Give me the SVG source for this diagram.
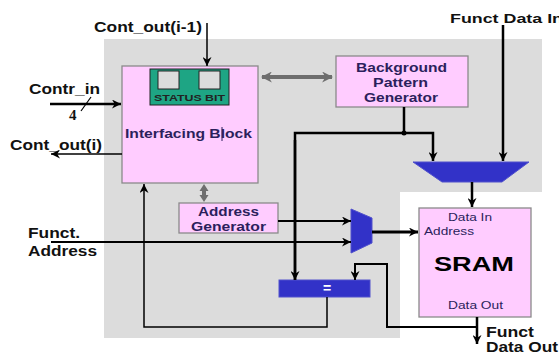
<svg xmlns="http://www.w3.org/2000/svg" width="559" height="354" viewBox="0 0 559 354">
<style>
.bx{fill:#ffccff;stroke:#8a8a8a;stroke-width:1.3}
.t{font-family:"Liberation Sans",Arial,sans-serif;font-weight:bold;fill:#111}
.bt{font-family:"Liberation Sans",Arial,sans-serif;font-weight:bold;fill:#2b1f5c}
.rt{font-family:"Liberation Sans",Arial,sans-serif;fill:#2b1f5c}
.w{fill:none;stroke:#000;stroke-linejoin:miter}
.blue{fill:#3232c8;stroke:#5050cc;stroke-width:1}
.g{stroke:#6e6e6e;stroke-width:4;fill:none}
</style>
<defs>
<marker id="a" viewBox="0 0 10 10" refX="10" refY="5" markerWidth="9" markerHeight="9" markerUnits="userSpaceOnUse" orient="auto"><path d="M0,0 L10,5 L0,10 L3,5 z" fill="#000"/></marker>
<marker id="ga" viewBox="0 0 10 10" refX="9" refY="5" markerWidth="11" markerHeight="11" markerUnits="userSpaceOnUse" orient="auto-start-reverse"><path d="M0,0 L10,5 L0,10 L3,5 z" fill="#6e6e6e"/></marker>
</defs>
<rect width="559" height="354" fill="#fff"/>
<path d="M104,39 H542 V192 H400 V338 H104 Z" fill="#dcdcdc"/>

<g id="interfacing">
<rect class="bx" x="122" y="66" width="136" height="117"/>
<text class="bt" x="125" y="138" font-size="13" textLength="127" lengthAdjust="spacingAndGlyphs">Interfacing Block</text>
<line x1="222" y1="127" x2="222" y2="141" stroke="#2b1f5c" stroke-width="1"/>
</g>
<g id="status">
<rect x="150" y="69" width="79" height="36" fill="#1ea584" stroke="#222" stroke-width="1"/>
<rect x="158" y="71" width="21" height="18" fill="#dcdcdc" stroke="#222" stroke-width="1"/>
<rect x="199" y="71" width="21" height="18" fill="#dcdcdc" stroke="#222" stroke-width="1"/>
<text class="t" x="154" y="101" font-size="9" textLength="71" lengthAdjust="spacingAndGlyphs" style="fill:#222">STATUS BIT</text>
</g>
<g id="bpg">
<rect class="bx" x="336" y="56" width="132" height="51"/>
<text class="bt" x="356" y="72" font-size="13" textLength="91" lengthAdjust="spacingAndGlyphs">Background</text>
<text class="bt" x="373" y="87" font-size="13" textLength="55" lengthAdjust="spacingAndGlyphs">Pattern</text>
<text class="bt" x="364" y="102" font-size="13" textLength="74" lengthAdjust="spacingAndGlyphs">Generator</text>
</g>
<g id="addrgen">
<rect class="bx" x="179" y="203" width="99" height="30"/>
<text class="bt" x="198" y="216" font-size="13" textLength="61" lengthAdjust="spacingAndGlyphs">Address</text>
<text class="bt" x="191" y="231" font-size="13" textLength="75" lengthAdjust="spacingAndGlyphs">Generator</text>
</g>
<g id="datamux">
<path class="blue" d="M413,162 H529 L502,182 H442 Z"/>
</g>
<g id="addrmux">
<path class="blue" d="M351,209 L372,218 V243 L351,253 Z"/>
</g>
<g id="compare">
<rect class="blue" x="279" y="280" width="91" height="17"/>
<text x="327" y="293" font-family="Liberation Sans,Arial,sans-serif" font-weight="bold" font-size="14" fill="#fff" text-anchor="middle">=</text>
</g>
<g id="sram">
<rect class="bx" x="419" y="208" width="112" height="109"/>
<text class="rt" x="448" y="221" font-size="11" textLength="44" lengthAdjust="spacingAndGlyphs">Data In</text>
<text class="rt" x="424" y="235" font-size="11" textLength="50" lengthAdjust="spacingAndGlyphs">Address</text>
<text x="434" y="271" font-family="Liberation Sans,Arial,sans-serif" font-weight="bold" font-size="21" fill="#000" textLength="80" lengthAdjust="spacingAndGlyphs">SRAM</text>
<text class="rt" x="448" y="309" font-size="11" textLength="55" lengthAdjust="spacingAndGlyphs">Data Out</text>
</g>

<g id="labels">
<text class="t" x="94" y="32" font-size="14" textLength="108" lengthAdjust="spacingAndGlyphs">Cont_out(i-1)</text>
<text class="t" x="29" y="94" font-size="14" textLength="71" lengthAdjust="spacingAndGlyphs">Contr_in</text>
<text x="69" y="120" font-family="Liberation Serif,serif" font-weight="bold" font-size="15" fill="#111">4</text>
<text class="t" x="10" y="150" font-size="14" textLength="92" lengthAdjust="spacingAndGlyphs">Cont_out(i)</text>
<text class="t" x="450" y="23" font-size="13" textLength="113" lengthAdjust="spacingAndGlyphs">Funct Data In</text>
<text class="t" x="28" y="238" font-size="14" textLength="52" lengthAdjust="spacingAndGlyphs">Funct.</text>
<text class="t" x="28" y="256" font-size="14" textLength="69" lengthAdjust="spacingAndGlyphs">Address</text>
<text class="t" x="486" y="337" font-size="14" textLength="48" lengthAdjust="spacingAndGlyphs">Funct</text>
<text class="t" x="486" y="352" font-size="14" textLength="72" lengthAdjust="spacingAndGlyphs">Data Out</text>
</g>

<g id="connectors">
<path class="w" d="M207,23 V66" stroke-width="1.5" marker-end="url(#a)"/>
<path class="w" d="M50,104 H121" stroke-width="2.5" marker-end="url(#a)"/>
<path class="w" d="M81,111 L91,97" stroke-width="1.2"/>
<path class="w" d="M122,154 H51" stroke-width="1.5" marker-end="url(#a)"/>
<path class="g" d="M262,77 H332" marker-start="url(#ga)" marker-end="url(#ga)"/>
<path d="M204,184 L208.5,191 H206 V195 H208.5 L204,202 L199.5,195 H202 V191 H199.5 Z" fill="#6e6e6e"/>
<path class="w" d="M503,25 V161" stroke-width="2.5" marker-end="url(#a)"/>
<path class="w" d="M404,107 V133" stroke-width="2.5"/>
<path class="w" d="M295,280 V133 H433 V161" stroke-width="2.5" marker-end="url(#a)"/>
<path class="w" d="M295,140 V280" stroke-width="2.5" marker-end="url(#a)"/>
<circle cx="404" cy="133" r="2.5" fill="#000"/>
<path class="w" d="M472,182 V207" stroke-width="2.5" marker-end="url(#a)"/>
<path class="w" d="M278,221 H351" stroke-width="2" marker-end="url(#a)"/>
<path class="w" d="M51,242 H351" stroke-width="2" marker-end="url(#a)"/>
<path class="w" d="M372,232 H418" stroke-width="3" marker-end="url(#a)"/>
<path class="w" d="M477,317 V344" stroke-width="2.5" marker-end="url(#a)"/>
<path class="w" d="M477,327 H387 V264 H355 V280" stroke-width="2" marker-end="url(#a)"/>
<path class="w" d="M327,297 V327 H144 V184" stroke-width="1.5" marker-end="url(#a)"/>
</g>
</svg>
